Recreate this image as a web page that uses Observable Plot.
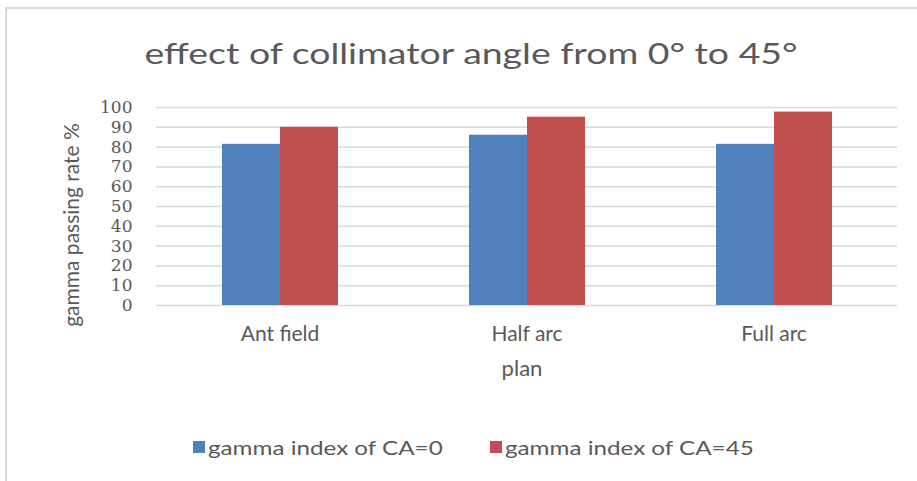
<!DOCTYPE html>
<html><head><meta charset="utf-8">
<script src="https://cdn.jsdelivr.net/npm/d3@7"></script>
<script src="https://cdn.jsdelivr.net/npm/@observablehq/plot@0.6"></script>
<style>
body{margin:0;background:#fff;}
#wrap{position:relative;width:917px;height:481px;overflow:hidden;font-family:Lato,"Open Sans",sans-serif;color:#595959;background:#fff}
#frame{position:absolute;left:5px;top:7px;width:920px;height:480px;border-left:2px solid #d9d9d9;border-top:2px solid #d9d9d9;box-sizing:border-box}
#chart{position:absolute;left:0;top:0}
#title{position:absolute;left:471px;top:33px;font-size:29px;line-height:40px;white-space:nowrap;transform:translateX(-50%) scaleX(1.29)}
#ylab{position:absolute;left:70px;top:225px;transform:translate(-50%,-50%) rotate(-90deg);font-size:21px;white-space:nowrap}
#xlab{position:absolute;left:522px;top:367px;transform:translate(-50%,-50%) scaleX(1.05);font-size:21px;white-space:nowrap}
.item{position:absolute;top:436px;height:22px;display:flex;align-items:center;font-size:20px;white-space:nowrap}
.sw{width:12px;height:12px;margin-right:3px;flex:none}
.lt{display:inline-block;transform-origin:left center;transform:scaleX(1.21)}
</style></head><body>
<div id="wrap">
<div id="frame"></div>
<div id="chart"></div>
<div id="title"></div>
<div id="ylab"></div>
<div id="xlab"></div>
<div id="legend"></div>
</div>
<script>
const categories = ["Ant field", "Half arc", "Full arc"];
const seriesNames = ["gamma index of CA=0", "gamma index of CA=45"];
const ca0 = [81.4, 86.0, 81.4];
const ca45 = [90.0, 95.1, 97.7];
const yTicks = [0, 10, 20, 30, 40, 50, 60, 70, 80, 90, 100];
const seriesColors = ["#4f81bd", "#c0504d"];
const titleText = "effect of collimator angle from 0° to 45°";
const yLabel = "gamma passing rate %";
const xLabel = "plan";

const data = [];
categories.forEach((c, i) => {
  data.push({plan: c, series: seriesNames[0], value: ca0[i]});
  data.push({plan: c, series: seriesNames[1], value: ca45[i]});
});

const plot = Plot.plot({
  width: 917,
  height: 481,
  marginLeft: 156,
  marginRight: 20,
  marginTop: 107,
  marginBottom: 176,
  style: {background: "transparent", color: "#595959", overflow: "visible"},
  fx: {domain: categories, padding: 0, label: null},
  x: {domain: seriesNames, paddingInner: 0, paddingOuter: 1.1, axis: null},
  y: {domain: [0, 100], label: null},
  color: {domain: seriesNames, range: seriesColors},
  marks: [
    Plot.gridY(yTicks, {stroke: "#d9d9d9", strokeOpacity: 1, strokeWidth: 1.5}),
    Plot.barY(data, {fx: "plan", x: "series", y: "value", fill: "series"}),
    Plot.axisY(yTicks, {tickSize: 0, tickPadding: 24, fontSize: 17, fontFamily: "DejaVu Serif", label: null, fill: "#595959"}),
    Plot.axisFx({anchor: "bottom", tickSize: 0, tickPadding: 21, fontSize: 21, fontFamily: "Lato", label: null, fill: "#595959", stroke: "#595959", strokeWidth: 0.4})
  ]
});
document.getElementById("chart").appendChild(plot);
document.getElementById("title").textContent = titleText;
document.getElementById("ylab").textContent = yLabel;
document.getElementById("xlab").textContent = xLabel;
const legend = document.getElementById("legend");
const legendLeft = [193, 490];
seriesNames.forEach((s, i) => {
  const it = document.createElement("div"); it.className = "item"; it.style.left = legendLeft[i] + "px";
  const sw = document.createElement("div"); sw.className = "sw"; sw.style.background = seriesColors[i];
  const t = document.createElement("span"); t.className = "lt"; t.textContent = s;
  it.appendChild(sw); it.appendChild(t); legend.appendChild(it);
});
</script>
</body></html>
